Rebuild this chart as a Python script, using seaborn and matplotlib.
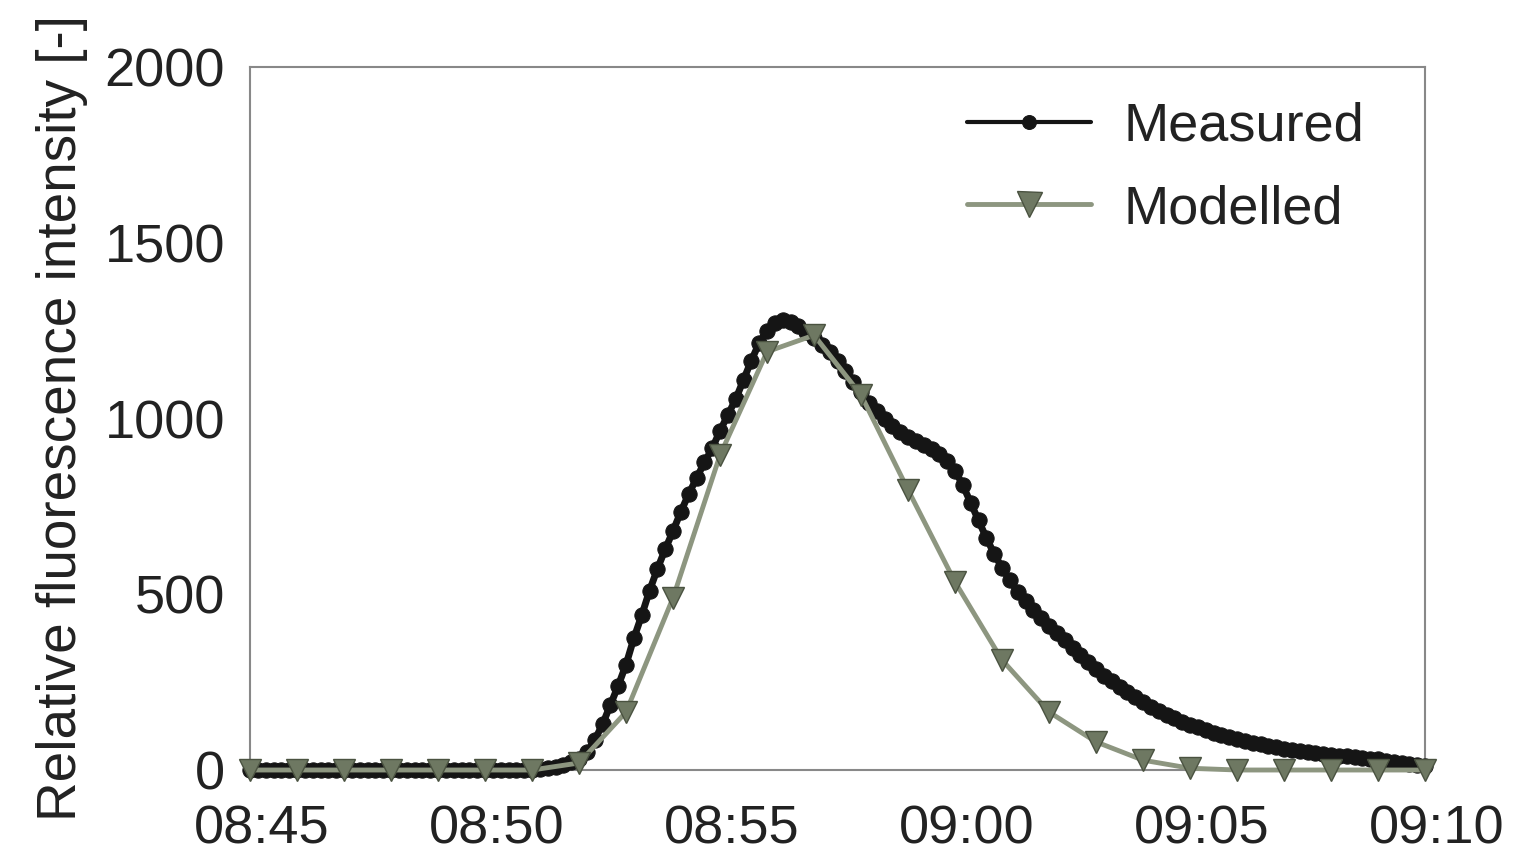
import numpy as np
import pandas as pd
import matplotlib
matplotlib.use("Agg")
import matplotlib.pyplot as plt
import matplotlib.dates as mdates
import matplotlib.transforms as mtransforms
import seaborn as sns

# measured signal, one reading every 10 s from 08:45 to 09:10
measured = [
    0, 0, 0, 0, 0, 0, 0, 0, 0, 0, 0, 0, 0, 0, 0, 0, 0, 0, 0, 0,
    0, 0, 0, 0, 0, 0, 0, 0, 0, 0, 0, 0, 0, 0, 0, 0, 0,
    3, 5, 8, 14, 22, 32, 50, 85, 130, 185, 240, 300, 375, 440, 510,
    572, 628, 680, 735, 785, 830, 875, 915, 965, 1010, 1055, 1110, 1165,
    1215, 1250, 1272, 1280, 1275, 1262, 1245, 1228, 1210, 1190, 1165, 1135,
    1105, 1075, 1045, 1020, 1000, 980, 962, 948, 935, 924, 912, 898, 880,
    852, 810, 760, 710, 660, 615, 575, 540, 507, 480, 455, 432, 410, 390,
    370, 348, 327, 306, 286, 268, 252, 236, 221, 207, 193, 180, 168, 157,
    147, 138, 129, 121, 113, 106, 99, 93, 87, 82, 77, 73, 69, 65, 61, 58,
    55, 52, 49, 46, 43, 41, 39, 37, 34, 32, 30, 27, 24, 21, 18, 15, 12,
]
# modelled signal, one value per minute
modelled = [0, 0, 0, 0, 0, 0, 0, 20, 165, 490, 896, 1190, 1237, 1067, 797,
            535, 313, 165, 80, 28, 5, 0, 0, 0, 0, 0]

t_meas = pd.date_range("2010-01-01 08:45", periods=len(measured), freq="10s")
t_mod = pd.date_range("2010-01-01 08:45", periods=len(modelled), freq="1min")

df_meas = pd.DataFrame({"time": t_meas, "value": measured})
df_mod = pd.DataFrame({"time": t_mod, "value": modelled})

sns.set_style("white")
plt.rcParams["font.family"] = ["Liberation Sans", "DejaVu Sans"]

fig = plt.figure(figsize=(15.21, 8.59), dpi=100)
ax = fig.add_axes([0.1644, 0.1036, 0.7725, 0.8184])

sns.lineplot(data=df_meas, x="time", y="value", ax=ax, color="#151515",
             lw=5, marker="o", markersize=11, markeredgecolor="#151515",
             label="Measured", clip_on=False, zorder=3)
sns.lineplot(data=df_mod, x="time", y="value", ax=ax, color="#8d9680",
             lw=3.5, marker="v", markersize=16, markerfacecolor="#6e7862",
             markeredgecolor="#4a5240", markeredgewidth=1,
             label="Modelled", clip_on=False, zorder=4)

ax.set_xlim(pd.Timestamp("2010-01-01 08:45"), pd.Timestamp("2010-01-01 09:10"))
ax.set_ylim(0, 2000)
ax.set_yticks([0, 500, 1000, 1500, 2000])
ax.xaxis.set_major_locator(mdates.MinuteLocator(byminute=range(0, 60, 5)))
ax.xaxis.set_major_formatter(mdates.DateFormatter("%H:%M"))

ax.set_xlabel("")
ax.set_ylabel("Relative fluorescence intensity [-]", fontsize=39.5,
              color="#222222", labelpad=12)
ax.tick_params(axis="both", direction="in", length=7, width=1.2,
               color="#777777", labelsize=39, labelcolor="#222222")
ax.tick_params(axis="x", pad=25)
ax.tick_params(axis="y", pad=18)

offset = mtransforms.ScaledTranslation(12 / 100, 0, fig.dpi_scale_trans)
for lab in ax.get_xticklabels():
    lab.set_transform(lab.get_transform() + offset)

for s in ax.spines.values():
    s.set_color("#888888")
    s.set_linewidth(1.5)

leg = ax.legend(loc="upper right", bbox_to_anchor=(0.99, 1.02), frameon=False,
                fontsize=39, handlelength=2.3, handletextpad=0.6,
                labelspacing=0.6, markerscale=1.0, labelcolor="#222222")
hl = leg.get_lines()
hl[0].set_linewidth(3)
hl[0].set_markersize(10)
hl[1].set_linewidth(3.5)
hl[1].set_markersize(18)

fig.savefig("out.png", dpi=100)
